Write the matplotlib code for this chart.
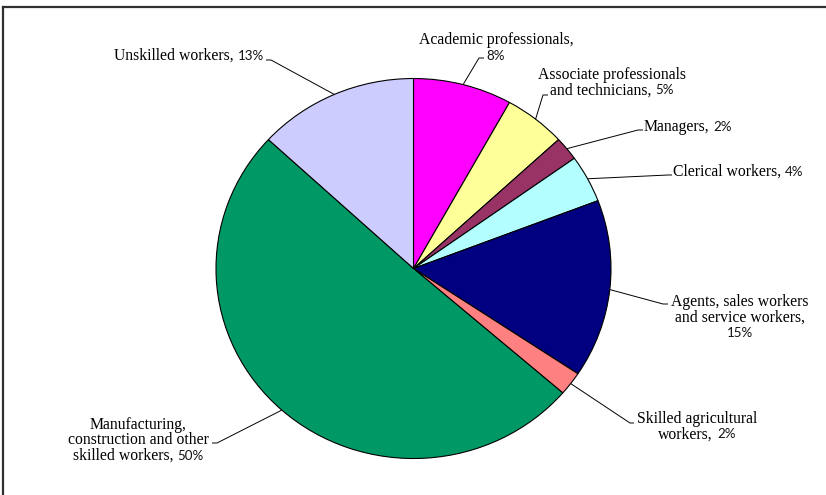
import matplotlib
matplotlib.use("Agg")
import matplotlib.pyplot as plt
from matplotlib.lines import Line2D
import numpy as np

# ---------------- data ----------------
categories = [
    "Academic professionals",
    "Associate professionals and technicians",
    "Managers",
    "Clerical workers",
    "Agents, sales workers and service workers",
    "Skilled agricultural workers",
    "Manufacturing, construction and other skilled workers",
    "Unskilled workers",
]
shares = [8, 5, 2, 4, 15, 2, 50, 13]
colors = ["#FF00FF", "#FFFF99", "#993366", "#B3FFFF", "#000080", "#FF8080", "#009966", "#CCCCFF"]
# label text lines; the percentage is appended (in a sans font) to the last line
label_lines = [
    ["Academic professionals,", ""],
    ["Associate professionals", "and technicians,"],
    ["Managers,"],
    ["Clerical workers,"],
    ["Agents, sales workers", "and service workers,", ""],
    ["Skilled agricultural", "workers,"],
    ["Manufacturing,", "construction and other", "skilled workers,"],
    ["Unskilled workers,"],
]

# ---------------- layout (pixels) ----------------
W, H = 826, 495
cx, cy, rx, ry = 413.5, 268.5, 197.5, 190.0
# anchor x, alignment, first line centre y, elbow point, end of leader
layout = [
    (496, "center", 39, (479, 58), (484, 58)),
    (612, "center", 74, (543, 95), (548, 95)),
    (644, "left", 126, (638, 130), (643, 130)),
    (673, "left", 171, (668, 175), (672, 175)),
    (740, "center", 301, (663, 304), (668, 304)),
    (697, "center", 418, (630, 423), (634, 423)),
    (138, "center", 424, (217, 443), (212, 443)),
    (264, "right", 55, (271, 60), (266, 60)),
]
line_step = 15.5
serif = "Liberation Serif"
sans = "Lato"
serif_size = 11.3
sans_size = 9.6

fig = plt.figure(figsize=(W / 100, H / 100), dpi=100)
ax = fig.add_axes([0, 0, 1, 1])
wedges, _ = ax.pie(shares, colors=colors, startangle=90, counterclock=False,
                   wedgeprops=dict(edgecolor="black", linewidth=0.8))
ax.set_aspect("auto")
ax.set_xlim(-cx / rx, (W - cx) / rx)
ax.set_ylim(-(H - cy) / ry, cy / ry)
ax.axis("off")


def P(px, py):
    return ((px - cx) / rx, (cy - py) / ry)


renderer = fig.canvas.get_renderer()


def draw_line(x, y, s1, s2, ha):
    yb = y + 5  # baseline in pixels
    t1 = ax.text(0, 0, s1, family=serif, fontsize=serif_size, ha="left", va="baseline")
    t2 = ax.text(0, 0, s2, family=sans, fontsize=sans_size, ha="left", va="baseline",
                 color="#111111")
    w1 = t1.get_window_extent(renderer).width if s1 else 0
    w2 = t2.get_window_extent(renderer).width if s2 else 0
    gap = 4 if (s1 and s2) else 0
    total = w1 + gap + w2
    if ha == "left":
        x0 = x
    elif ha == "center":
        x0 = x - total / 2
    else:
        x0 = x - total
    t1.set_position(P(x0, yb))
    t2.set_position(P(x0 + w1 + gap, yb))


for w, lines, val, (lx, ha, ly, elbow, end) in zip(wedges, label_lines, shares, layout):
    # text
    for i, ln in enumerate(lines):
        pct = f"{val}%" if i == len(lines) - 1 else ""
        draw_line(lx, ly + i * line_step, ln, pct, ha)
    # leader line from the wedge's mid-angle on the rim
    mid = np.deg2rad((w.theta1 + w.theta2) / 2)
    ex, ey = np.cos(mid), np.sin(mid)
    bx, by = P(*elbow)
    fx, fy = P(*end)
    ax.plot([ex, bx, fx], [ey, by, fy], color="black", lw=0.7, solid_capstyle="butt")

# chart-area border (top and left edges visible)
fig.add_artist(Line2D([3 / W, 1], [1 - 6.5 / H] * 2, transform=fig.transFigure,
                      color="#303030", lw=1.6))
fig.add_artist(Line2D([3 / W] * 2, [0, 1 - 6.5 / H], transform=fig.transFigure,
                      color="#303030", lw=1.6))

fig.savefig("out.png", dpi=100, facecolor="white")
